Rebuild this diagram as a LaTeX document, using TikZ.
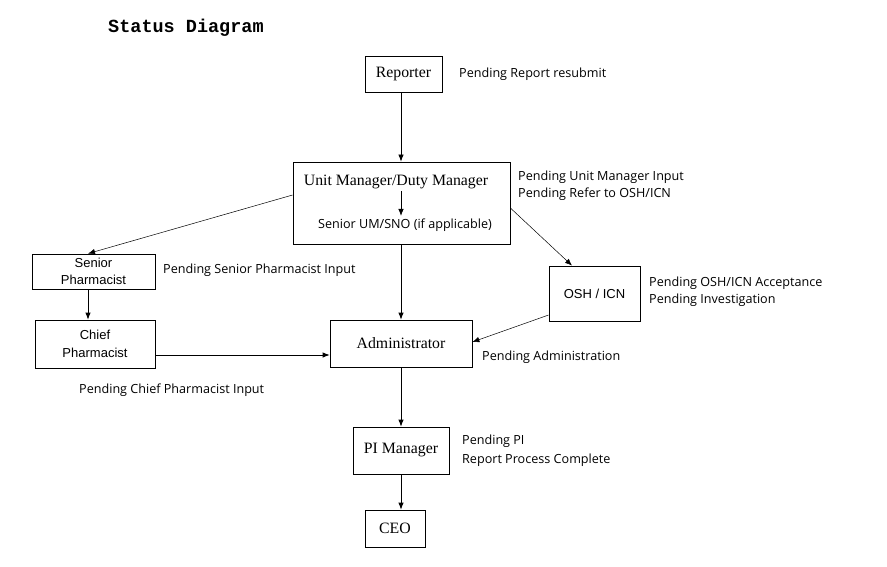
\documentclass[tikz,border=0pt]{standalone}
\usepackage{fontspec}
\setmainfont{Liberation Serif}
\newfontfamily\statfont{Open Sans}
\newfontfamily\arialfont{Liberation Sans}
\newfontfamily\courfont{Liberation Mono}
\usetikzlibrary{arrows.meta}
\begin{document}
\begin{tikzpicture}[x=1pt,y=-1pt,
  box/.style={draw,line width=0.8pt,inner sep=0pt},
  serif/.style={font=\fontsize{15.8}{18}\selectfont},
  ariabox/.style={font=\arialfont\fontsize{13}{16.5}\selectfont,align=center},
  stat/.style={font=\statfont\fontsize{12.6}{17}\selectfont,anchor=west,align=left,inner sep=0pt},
  arr/.style={line width=0.8pt,-{Latex[length=7pt,width=5.5pt]}},
  thinarr/.style={line width=0.5pt,-{Latex[length=7pt,width=5.5pt]}}]
\useasboundingbox (0,0) rectangle (887,567);
\fill[white] (0,0) rectangle (887,567);
\node[anchor=west,inner sep=0pt,font=\courfont\bfseries\fontsize{18.5}{20}\selectfont] (title) at (108,28) {Status Diagram};

\node[box,minimum width=77,minimum height=36,serif] (rep) at (403.5,74) {Reporter};
\node[stat] (srep) at (459,74) {Pending Report resubmit};

\node[box,minimum width=217,minimum height=82] (um) at (401.5,203) {};
\node[serif] (umt) at (396,182) {Unit Manager/Duty Manager};
\node[font=\statfont\fontsize{12.6}{14}\selectfont,inner sep=0pt] (sno) at (405,225) {Senior UM/SNO (if applicable)};
\coordinate (umin1) at (401,191);
\coordinate (umin2) at (401,216);
\node[stat] (sum) at (518,185.5) {Pending Unit Manager Input\\Pending Refer to OSH/ICN};

\node[box,minimum width=123,minimum height=35,ariabox,text depth=0pt] (sp) at (93.5,271.5) {Senior\\Pharmacist};
\node[stat] (ssp) at (163,270) {Pending Senior Pharmacist Input};

\node[box,minimum width=120,minimum height=48,ariabox,font=\arialfont\fontsize{13}{18}\selectfont] (cp) at (95,344) {Chief\\Pharmacist};
\node[stat] (scp) at (79,390) {Pending Chief Pharmacist Input};

\node[box,minimum width=142,minimum height=47,serif] (adm) at (401,343.5) {Administrator};
\node[stat] (sadm) at (482,357) {Pending Administration};

\node[box,minimum width=91,minimum height=55,font=\arialfont\fontsize{13}{15}\selectfont] (osh) at (594.5,293.5) {OSH / ICN};
\node[stat] (sosh) at (649,292) {Pending OSH/ICN Acceptance\\Pending Investigation};

\node[box,minimum width=96,minimum height=47,serif] (pi) at (401,450.5) {PI Manager};
\node[stat,font=\statfont\fontsize{12.6}{19}\selectfont] (spi) at (462,450.5) {Pending PI\\Report Process Complete};

\node[box,minimum width=60,minimum height=37,serif] (ceo) at (395,528.5) {CEO};

\coordinate (a) at (401,0);
\coordinate (b) at (88,0);
\coordinate (c) at (572,0);
\coordinate (y195) at (0,195);
\coordinate (y355) at (0,355);
\coordinate (y208) at (0,208);
\coordinate (y315) at (0,315);
\coordinate (y342) at (0,342);

\draw[arr] (rep.south -| a) -- (um.north -| a);
\draw[arr] (umin1) -- (umin2);
\draw[thinarr] (um.west |- y195) -- (sp.north -| b);
\draw[arr] (sp.south -| b) -- (cp.north -| b);
\draw[arr] (cp.east |- y355) -- (adm.west |- y355);
\draw[arr] (um.south -| a) -- (adm.north -| a);
\draw[thinarr] (um.east |- y208) -- (osh.north -| c);
\draw[thinarr] (osh.west |- y315) -- (adm.east |- y342);
\draw[arr] (adm.south -| a) -- (pi.north -| a);
\draw[arr] (pi.south -| a) -- (ceo.north -| a);
\end{tikzpicture}
\end{document}
